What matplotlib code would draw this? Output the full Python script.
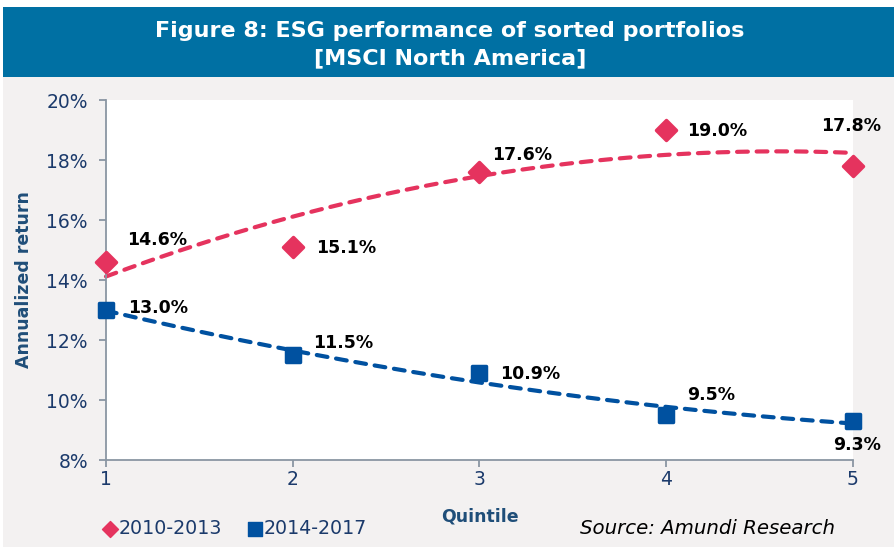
import numpy as np
import matplotlib.pyplot as plt
from matplotlib.patches import Rectangle
from matplotlib.lines import Line2D
from matplotlib.markers import MarkerStyle
from matplotlib.ticker import FuncFormatter

# --- data ---
quintiles = [1, 2, 3, 4, 5]
ret_2010_2013 = [14.6, 15.1, 17.6, 19.0, 17.8]
ret_2014_2017 = [13.0, 11.5, 10.9, 9.5, 9.3]
labels_2010 = ["14.6%", "15.1%", "17.6%", "19.0%", "17.8%"]
labels_2014 = ["13.0%", "11.5%", "10.9%", "9.5%", "9.3%"]

# label offsets in pixels (dx, dy) from each marker to the label's left edge
offs_2010 = [(21, 22), (23, -1), (13, 17), (21, -1), (-32, 40)]
offs_2014 = [(22, 2), (20, 12), (21, -1), (21, 20), (-20, -24)]

red = "#E5335E"
blue = "#0051A0"
navy = "#1B3A6B"
label_blue = "#1F4E79"
bg = "#F3F1F1"

plt.rcParams['font.family'] = ['DejaVu Sans']

W, H = 895, 547
fig = plt.figure(figsize=(W / 100, H / 100), dpi=100)

# background panels
fig.patches.append(Rectangle((3 / W, 0), 1, 1 - 77 / H, transform=fig.transFigure,
                             facecolor=bg, edgecolor="none", zorder=-2))
fig.patches.append(Rectangle((3 / W, 1 - 77 / H), 1, 70 / H, transform=fig.transFigure,
                             facecolor="#0070A3", edgecolor="none", zorder=-2))
fig.text(450 / W, 1 - 31 / H, "Figure 8: ESG performance of sorted portfolios",
         ha="center", va="center", color="white", fontsize=16, fontweight="bold")
fig.text(450 / W, 1 - 58 / H, "[MSCI North America]",
         ha="center", va="center", color="white", fontsize=16, fontweight="bold")

ax = fig.add_axes([106 / W, 1 - 460 / H, (853 - 106) / W, 360 / H])
ax.set_facecolor("white")
ax.set_zorder(1)

# quadratic trend lines
xs = np.linspace(1, 5, 200)
fit_r = np.polyfit(quintiles, ret_2010_2013, 2)
fit_b = np.polyfit(quintiles, ret_2014_2017, 2)
ax.plot(xs, np.polyval(fit_r, xs), color=red, lw=3, dashes=(2.6, 2.1),
        dash_capstyle="round", zorder=2, clip_on=False)
ax.plot(xs, np.polyval(fit_b, xs), color=blue, lw=3, dashes=(2.6, 2.1),
        dash_capstyle="round", zorder=2, clip_on=False)

diamond = MarkerStyle("D", joinstyle="round")
square = MarkerStyle("s", joinstyle="round")
ax.plot(quintiles, ret_2010_2013, marker=diamond, color=red, ms=10.5, mew=2.5, mec=red,
        ls="none", zorder=3, clip_on=False)
ax.plot(quintiles, ret_2014_2017, marker=square, color=blue, ms=9.5, mew=2.5, mec=blue,
        ls="none", zorder=3, clip_on=False)

for x, y, t, o in zip(quintiles, ret_2010_2013, labels_2010, offs_2010):
    ax.annotate(t, (x, y), xytext=o, textcoords="offset pixels", ha="left", va="center",
                fontsize=12.5, fontweight="bold", color="black", zorder=4, annotation_clip=False)
for x, y, t, o in zip(quintiles, ret_2014_2017, labels_2014, offs_2014):
    ax.annotate(t, (x, y), xytext=o, textcoords="offset pixels", ha="left", va="center",
                fontsize=12.5, fontweight="bold", color="black", zorder=4, annotation_clip=False)

ax.set_xlim(1, 5)
ax.set_ylim(8, 20)
ax.set_xticks(quintiles)
ax.set_yticks(np.arange(8, 21, 2))
ax.yaxis.set_major_formatter(FuncFormatter(lambda v, p: f"{v:.0f}%"))
for s in ["top", "right"]:
    ax.spines[s].set_visible(False)
for s in ["left", "bottom"]:
    ax.spines[s].set_color("#8A96A3")
    ax.spines[s].set_linewidth(1.3)
ax.tick_params(axis="both", colors="#8A96A3", length=5, width=1.3, labelsize=13.5,
               labelcolor=navy)
ax.tick_params(axis="x", pad=2)
ax.tick_params(axis="y", pad=8)

# axis titles
fig.text(24 / W, 1 - 280 / H, "Annualized return", rotation=90, ha="center", va="center",
         fontsize=12.5, fontweight="bold", color=label_blue)
fig.text(480 / W, 1 - 517 / H, "Quintile", ha="center", va="center",
         fontsize=12.5, fontweight="bold", color=label_blue)

# legend row and source line
fig.add_artist(Line2D([110 / W], [1 - 529 / H], marker=diamond, color=red, ms=8,
                      transform=fig.transFigure))
fig.text(119 / W, 1 - 529 / H, "2010-2013", color=navy, fontsize=13.7, ha="left", va="center")
fig.add_artist(Line2D([255 / W], [1 - 529 / H], marker=square, color=blue, ms=9.5,
                      transform=fig.transFigure))
fig.text(264 / W, 1 - 529 / H, "2014-2017", color=navy, fontsize=13.7, ha="left", va="center")
fig.text(580 / W, 1 - 529 / H, "Source: Amundi Research", color="black", fontsize=14.2,
         style="italic", ha="left", va="center")

fig.savefig("out.png", dpi=100)
